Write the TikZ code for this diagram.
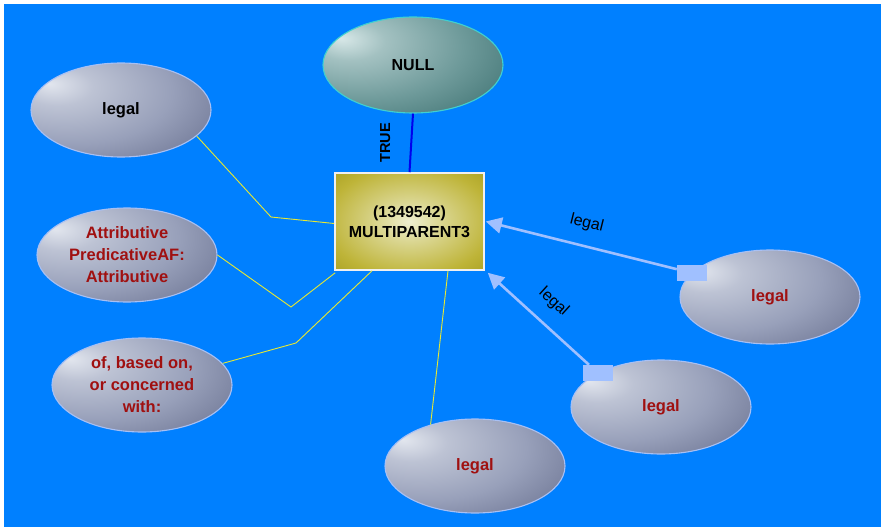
\documentclass[tikz,border=0pt]{standalone}
\usepackage{fontspec}
\setmainfont{Liberation Sans}
\usetikzlibrary{shapes.geometric,arrows.meta}
\definecolor{bgblue}{HTML}{0080FF}
\definecolor{gHi}{HTML}{E2E6EE}
\definecolor{gMid}{HTML}{98A0BA}
\definecolor{gDk}{HTML}{5C6484}
\definecolor{gBorder}{HTML}{A8C0F4}
\definecolor{tHi}{HTML}{D8E8E8}
\definecolor{tMid}{HTML}{6E9A9A}
\definecolor{tDk}{HTML}{2E6464}
\definecolor{tBorder}{HTML}{40D0D0}
\definecolor{oHi}{HTML}{EEEED0}
\definecolor{oMid}{HTML}{BEB438}
\definecolor{oDk}{HTML}{9A9212}
\definecolor{txtred}{HTML}{A01010}
\definecolor{yel}{HTML}{E8E830}
\definecolor{arrblue}{HTML}{A0C0FF}
\definecolor{truelink}{HTML}{0000EE}
\pgfdeclareradialshading{grayball}{\pgfpoint{-20bp}{14bp}}{color(0bp)=(gHi); color(10bp)=(gMid!50!gHi); color(28bp)=(gMid); color(52bp)=(gDk); color(90bp)=(gDk)}
\pgfdeclareradialshading{tealball}{\pgfpoint{-20bp}{14bp}}{color(0bp)=(tHi); color(10bp)=(tMid!50!tHi); color(28bp)=(tMid); color(52bp)=(tDk); color(90bp)=(tDk)}
\pgfdeclareradialshading{olivebox}{\pgfpoint{0bp}{0bp}}{color(0bp)=(oHi); color(10bp)=(oHi!60!oMid); color(28bp)=(oMid); color(45bp)=(oDk); color(75bp)=(oDk)}
\tikzset{
  ell/.style={ellipse, minimum width=180pt, minimum height=94pt, inner sep=0pt,
    shading=grayball, draw=gBorder, line width=1.1pt, align=center,
    font=\fontsize{16.5}{22}\selectfont\bfseries, text=txtred},
  nullell/.style={ellipse, minimum width=180pt, minimum height=96pt, inner sep=0pt,
    shading=tealball, draw=tBorder, line width=1.1pt, align=center,
    font=\fontsize{16}{22}\selectfont\bfseries, text=black},
  mainbox/.style={rectangle, minimum width=149pt, minimum height=97pt, inner sep=0pt,
    shading=olivebox, draw=white!88!gray, line width=1.6pt, align=center,
    font=\fontsize{16}{20}\selectfont\bfseries, text=black},
  yline/.style={draw=yel, line width=0.9pt},
  arr/.style={draw=arrblue, line width=2.6pt, -{Triangle[length=16pt,width=16pt]}},
  sqr/.style={rectangle, fill=arrblue, minimum width=30pt, minimum height=16pt, inner sep=0pt},
  elab/.style={font=\fontsize{16}{18}\selectfont, text=black, inner sep=1pt}
}
\begin{document}
\begin{tikzpicture}[x=1pt,y=-1pt]
\useasboundingbox (0,0) rectangle (881,527);
\fill[white] (0,0) rectangle (881,527);
\fill[bgblue] (3.5,4) rectangle (881,527);

\node[nullell] (null) at (413,65) {NULL};
\node[mainbox] (box) at (409.5,221.5) {(1349542)\\MULTIPARENT3};
\node[ell, text=black] (l1) at (121,110) {legal};
\node[ell] (attr) at (127,255) {Attributive\\PredicativeAF:\\Attributive};
\node[ell] (ofb) at (142,385) {of, based on,\\or concerned\\with:};
\node[ell] (bl) at (475,466) {legal};
\node[ell] (rm) at (661,407) {legal};
\node[ell] (rr) at (770,297) {legal};

\coordinate (b1) at (271,217);
\coordinate (b2) at (291,307);
\coordinate (b3) at (296,343);

\draw[yline] (l1.-19) -- (b1) -- ([yshift=-2]box.west);
\draw[yline] (attr.east) -- (b2) -- ([xshift=1,yshift=-2]box.south west);
\draw[yline] (ofb.15) -- (b3) -- ([xshift=-37.5]box.south);
\draw[yline] (bl.137) -- ([xshift=38.5]box.south);

\draw[truelink, line width=2pt] (null.south) -- node[pos=0.5, xshift=-26, rotate=90, font=\fontsize{14.5}{16}\selectfont\bfseries, text=black]{TRUE} (box.north);

\node[sqr] (sq1) at (692,273) {};
\node[sqr] (sq2) at (598,373) {};
\draw[arr] (sq1) -- node[elab, midway, sloped, above=13pt]{legal} ([xshift=1]box.east);
\draw[arr] (sq2) -- node[elab, midway, sloped, above=13pt]{legal} ([xshift=3,yshift=-2]box.south east);
\end{tikzpicture}
\end{document}
